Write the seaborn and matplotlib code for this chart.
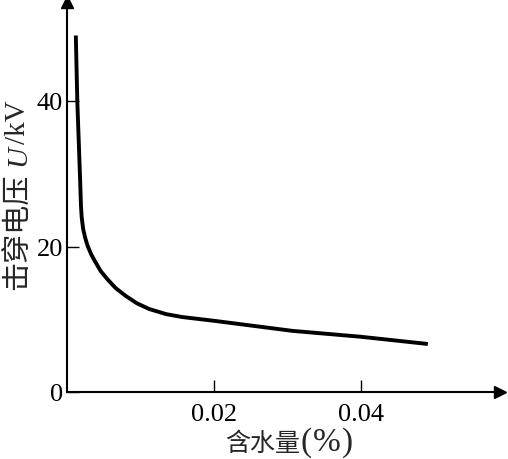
import matplotlib
matplotlib.use("Agg")
import matplotlib.pyplot as plt
import pandas as pd
import seaborn as sns

# water content (%) vs breakdown voltage (kV)
water = [0.0012, 0.0014, 0.00165, 0.00178, 0.0019, 0.0020, 0.0022, 0.0025,
         0.0028, 0.0033, 0.0039, 0.0046, 0.0055, 0.0066, 0.0080, 0.0095,
         0.0112, 0.0135, 0.0157, 0.0199, 0.0307, 0.0399, 0.0491]
voltage = [49.0, 40.0, 33.0, 29.3, 25.6, 24.0, 22.4, 21.1,
           20.1, 18.9, 17.8, 16.6, 15.5, 14.3, 13.2, 12.2,
           11.4, 10.7, 10.3, 9.8, 8.4, 7.6, 6.6]
xticks = [0.02, 0.04]
xtick_labels = ["0.02", "0.04"]
yticks = [0, 20, 40]

df = pd.DataFrame({"water": water, "voltage": voltage})

sns.set_style("ticks")
plt.rcParams["font.family"] = ["Liberation Serif", "Noto Sans CJK SC"]

fig = plt.figure(figsize=(5.08, 4.6), dpi=100)
ax = fig.add_axes([67 / 508, 67 / 460, 433 / 508, 390 / 460])

sns.lineplot(data=df, x="water", y="voltage", ax=ax, color="black",
             linewidth=2.8, sort=False, solid_joinstyle="round",
             solid_capstyle="butt")

ax.set_xlim(0, 433 / 7350)
ax.set_ylim(0, 390 / 7.275)

ax.set_xticks(xticks)
ax.set_xticklabels(xtick_labels)
ax.set_yticks(yticks)
ax.tick_params(direction="in", length=8.5, width=1.0, labelsize=19,
               color="black", labelcolor="black")
ax.tick_params(axis="x", pad=8)
ax.tick_params(axis="y", pad=3)
ax.set_xlabel("")
ax.set_ylabel("")

for side in ["top", "right"]:
    ax.spines[side].set_visible(False)
for side in ["left", "bottom"]:
    ax.spines[side].set_linewidth(1.5)
    ax.spines[side].set_color("black")

# arrow heads at axis ends
ax.plot(1, 0, marker=">", color="black", markersize=9, transform=ax.transAxes,
        clip_on=False)
ax.plot(0, 1, marker="^", color="black", markersize=9, transform=ax.transAxes,
        clip_on=False)


def place_parts(parts, x, y, vertical):
    # lay text pieces one after another along the baseline
    for text, style, family, size, gap in parts:
        t = ax.text(x, y, text, transform=ax.transAxes,
                    rotation=90 if vertical else 0, rotation_mode="anchor",
                    ha="left", va="baseline", fontsize=size,
                    fontstyle=style, family=family, clip_on=False)
        fig.canvas.draw()
        bb = t.get_window_extent()
        inv = ax.transAxes.inverted()
        if vertical:
            y = inv.transform((0, bb.y1 + gap))[1]
        else:
            x = inv.transform((bb.x1 + gap, 0))[0]


serif = ["Liberation Serif"]
cjk = ["Noto Sans CJK SC"]

# x label: 含水量(%)
place_parts([("含水量", "normal", cjk, 18, 1),
             ("(", "normal", serif, 24, 1),
             ("%", "normal", serif, 24, 1),
             (")", "normal", serif, 24, 0)],
            (225 - 67) / 433, (393 - 451) / 390, vertical=False)

# y label: 击穿电压 U/kV
place_parts([("击穿电压", "normal", cjk, 21, 7),
             ("U", "italic", serif, 21, 1),
             ("/kV", "normal", serif, 21, 0)],
            (25 - 67) / 433, (393 - 290) / 390, vertical=True)

fig.savefig("out.png", dpi=100)
